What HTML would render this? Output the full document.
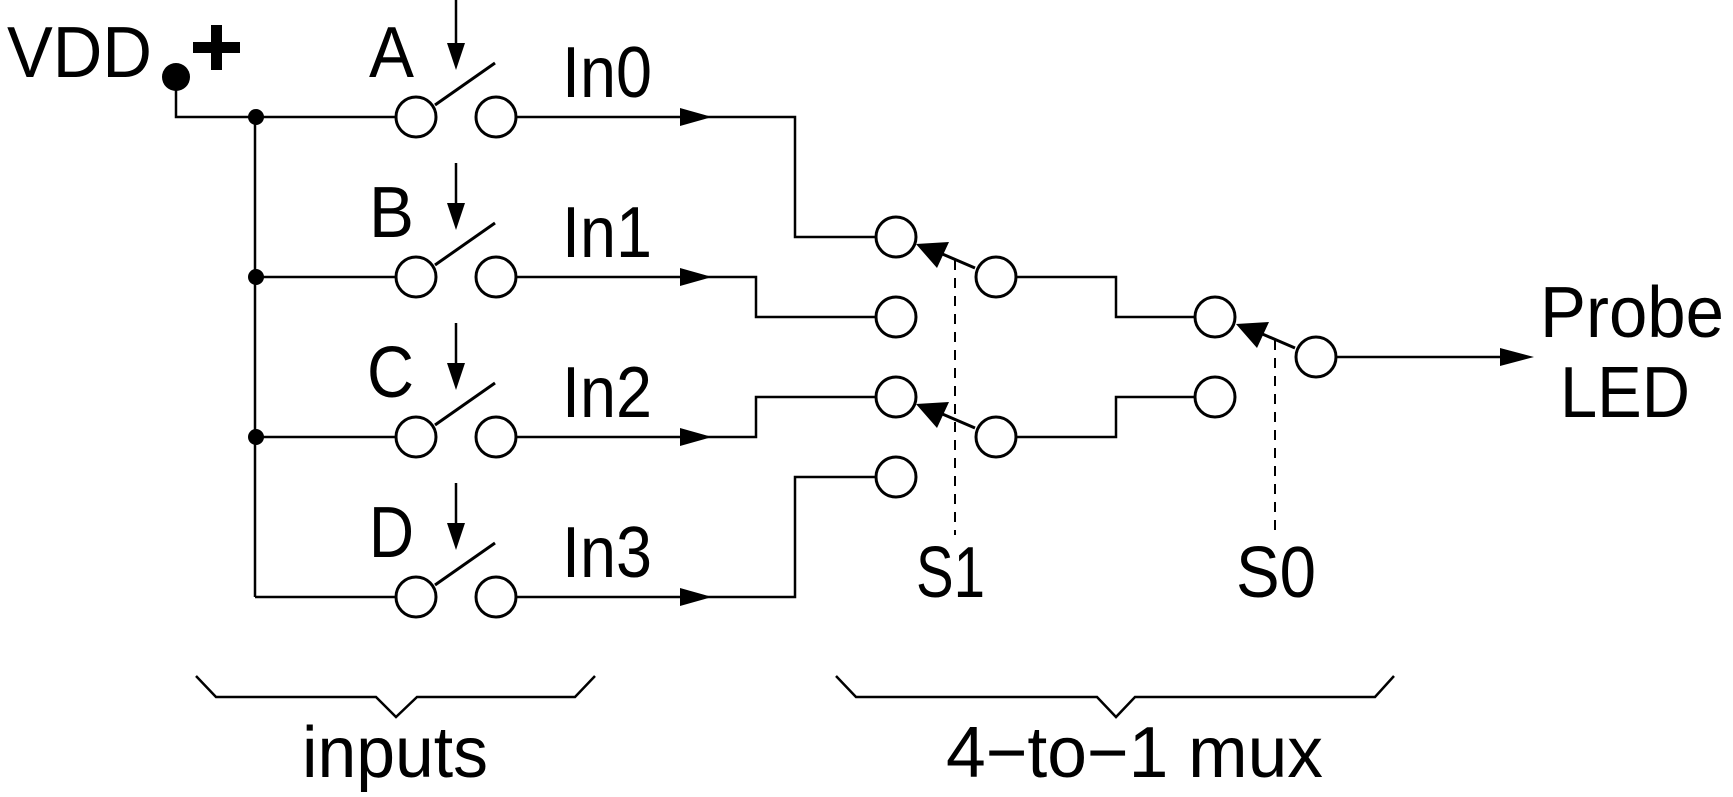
<!DOCTYPE html>
<html><head><meta charset="utf-8"><style>html,body{margin:0;padding:0;background:#fff;}svg{display:block}</style></head>
<body>
<svg width="1733" height="797" viewBox="0 0 1733 797" xmlns="http://www.w3.org/2000/svg" font-family="Liberation Sans, sans-serif" font-size="72">
<rect width="1733" height="797" fill="#fff"/>
<g stroke="#000" stroke-width="2.5" fill="none">
<polyline points="176,76 176,117 395,117"/>
<line x1="255" y1="117" x2="255" y2="597"/>
<line x1="255" y1="277" x2="395" y2="277"/>
<line x1="255" y1="437" x2="395" y2="437"/>
<line x1="255" y1="597" x2="395" y2="597"/>
<polyline points="516,117 795,117 795,237 876,237"/>
<polyline points="516,277 756,277 756,317 876,317"/>
<polyline points="516,437 756,437 756,397 876,397"/>
<polyline points="516,597 795,597 795,477 876,477"/>
<polyline points="1016,277 1116,277 1116,317 1195,317"/>
<polyline points="1016,437 1116,437 1116,397 1195,397"/>
<line x1="1336" y1="357" x2="1510" y2="357"/>
<g stroke-width="3">
<line x1="435" y1="105" x2="495" y2="63"/>
<line x1="435" y1="265" x2="495" y2="223"/>
<line x1="435" y1="425" x2="495" y2="383"/>
<line x1="435" y1="585" x2="495" y2="543"/>
<line x1="975" y1="268" x2="940" y2="253"/>
<line x1="975" y1="428" x2="940" y2="413"/>
<line x1="1295" y1="348" x2="1260" y2="333"/>
</g>
<line x1="456" y1="0" x2="456" y2="50"/>
<line x1="456" y1="163" x2="456" y2="210"/>
<line x1="456" y1="323" x2="456" y2="370"/>
<line x1="456" y1="483" x2="456" y2="530"/>
<line x1="955" y1="260" x2="955" y2="535" stroke-dasharray="10,8" stroke-width="2"/>
<line x1="1275" y1="340" x2="1275" y2="537" stroke-dasharray="10,8" stroke-width="2"/>
<polyline points="196,676 216,697 376,697 396,717 417,697 575,697 595,676"/>
<polyline points="836,676 856,697 1097,697 1116,717 1135,697 1375,697 1394,676"/>
</g>
<g stroke="#000" stroke-width="3" fill="#fff">
<circle cx="416" cy="117" r="20"/><circle cx="496" cy="117" r="20"/>
<circle cx="416" cy="277" r="20"/><circle cx="496" cy="277" r="20"/>
<circle cx="416" cy="437" r="20"/><circle cx="496" cy="437" r="20"/>
<circle cx="416" cy="597" r="20"/><circle cx="496" cy="597" r="20"/>
<circle cx="896" cy="237" r="20"/><circle cx="896" cy="317" r="20"/>
<circle cx="896" cy="397" r="20"/><circle cx="896" cy="477" r="20"/>
<circle cx="996" cy="277" r="20"/><circle cx="996" cy="437" r="20"/>
<circle cx="1215" cy="317" r="20"/><circle cx="1215" cy="397" r="20"/>
<circle cx="1316" cy="357" r="20"/>
</g>
<g fill="#000">
<circle cx="176" cy="77" r="14"/>
<circle cx="256" cy="117" r="8"/><circle cx="256" cy="277" r="8"/><circle cx="256" cy="437" r="8"/>
<rect x="211" y="25" width="11" height="45"/><rect x="193" y="42" width="47" height="11"/>
<polygon points="712,117 680,108 680,126"/>
<polygon points="712,277 680,268 680,286"/>
<polygon points="712,437 680,428 680,446"/>
<polygon points="712,597 680,588 680,606"/>
<polygon points="1534,357 1500,348 1500,366"/>
<polygon points="456,70 447,43 465,43"/>
<polygon points="456,230 447,203 465,203"/>
<polygon points="456,390 447,363 465,363"/>
<polygon points="456,550 447,523 465,523"/>
<polygon points="916,244 949,242 937,268"/>
<polygon points="916,404 949,402 937,428"/>
<polygon points="1236,324 1269,322 1257,348"/>
<text x="7" y="77" textLength="145" lengthAdjust="spacingAndGlyphs">VDD</text>
<text x="369" y="77" textLength="45" lengthAdjust="spacingAndGlyphs">A</text>
<text x="369" y="237" textLength="45" lengthAdjust="spacingAndGlyphs">B</text>
<text x="367" y="397" textLength="47" lengthAdjust="spacingAndGlyphs">C</text>
<text x="369" y="557" textLength="45" lengthAdjust="spacingAndGlyphs">D</text>
<text x="562" y="97" textLength="90" lengthAdjust="spacingAndGlyphs">In0</text>
<text x="562" y="257" textLength="90" lengthAdjust="spacingAndGlyphs">In1</text>
<text x="562" y="417" textLength="90" lengthAdjust="spacingAndGlyphs">In2</text>
<text x="562" y="577" textLength="90" lengthAdjust="spacingAndGlyphs">In3</text>
<text x="916" y="597" textLength="69" lengthAdjust="spacingAndGlyphs">S1</text>
<text x="1236" y="597" textLength="80" lengthAdjust="spacingAndGlyphs">S0</text>
<text x="1540" y="337" textLength="184" lengthAdjust="spacingAndGlyphs">Probe</text>
<text x="1560" y="417" textLength="130" lengthAdjust="spacingAndGlyphs">LED</text>
<text x="302" y="777" textLength="186" lengthAdjust="spacingAndGlyphs">inputs</text>
<text x="946" y="777" textLength="377" lengthAdjust="spacingAndGlyphs">4−to−1 mux</text>
</g>
</svg>
</body></html>
